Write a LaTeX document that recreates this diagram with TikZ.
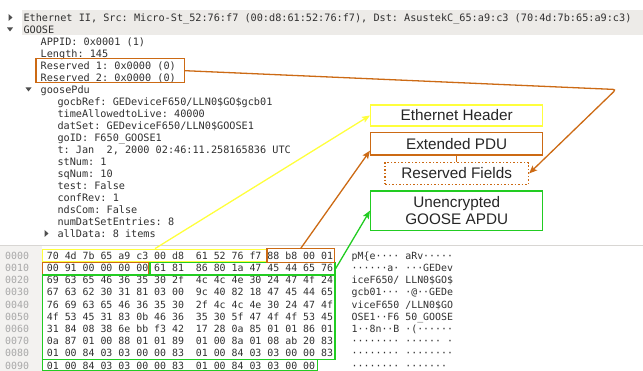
\documentclass[tikz,border=0pt]{standalone}
\usepackage{fontspec}
\setmainfont{Liberation Sans}
\setmonofont{DejaVu Sans Mono}
\usetikzlibrary{arrows.meta}

\definecolor{ethyellow}{HTML}{FFFF3C}
\definecolor{pduorange}{HTML}{CC6A14}
\definecolor{apdugreen}{HTML}{22CC22}
\definecolor{rowgray}{HTML}{EDEBE8}
\definecolor{offgray}{HTML}{A8A8A8}
\definecolor{treetext}{HTML}{303030}
\definecolor{paneline}{HTML}{D8D6D3}
\definecolor{offsetbg}{HTML}{F3F2F0}

\begin{document}
\begin{tikzpicture}[x=1pt,y=-1pt,
  treeline/.style={anchor=base west, inner sep=0pt, text=treetext, font=\fontsize{10.2}{12}\ttfamily},
  hexline/.style={anchor=base west, inner sep=0pt, text=treetext, font=\fontsize{9.9}{12}\ttfamily},
  offline/.style={hexline, text=offgray},
  hexbox/.style={line width=1.4pt, inner sep=0pt, minimum height=12.4pt},
  labelbox/.style={line width=1.5pt, inner sep=0pt, minimum width=172pt, text=black!85,
    font=\fontsize{15.3}{16.7}\selectfont, align=center},
  link/.style={line width=1.3pt, -{Stealth[length=8pt,width=6.5pt,inset=1.5pt]}},
  twisty/.style={fill=treetext!85, draw=none}
]
\useasboundingbox (0,0) rectangle (643,371);

% ---------- packet details pane ----------
\fill[rowgray] (22,10.5) rectangle (643,35.5);

\fill[twisty] (8.5,14) -- (12.5,17.5) -- (8.5,21) -- cycle;
\fill[twisty] (7,27.5) -- (13,27.5) -- (10,31.5) -- cycle;
\fill[twisty] (25.5,87.5) -- (31.5,87.5) -- (28.5,91.5) -- cycle;
\fill[twisty] (44.5,230) -- (48.5,233.5) -- (44.5,237) -- cycle;

\node[treeline] (ethii) at (23.3,21.1) {Ethernet II, Src: Micro-St\_52:76:f7 (00:d8:61:52:76:f7), Dst: AsustekC\_65:a9:c3 (70:4d:7b:65:a9:c3)};
\node[treeline] (goose) at (23.3,33.1) {GOOSE};
\node[treeline] (appid) at (40.5,45.1) {APPID: 0x0001 (1)};
\node[treeline] (length) at (40.5,57.1) {Length: 145};
\node[treeline] (res1) at (40.5,69.1) {Reserved 1: 0x0000 (0)};
\node[treeline] (res2) at (40.5,81.1) {Reserved 2: 0x0000 (0)};
\node[treeline] (pdu) at (40.5,93.1) {goosePdu};
\node[treeline] (gocb) at (57.3,105.1) {gocbRef: GEDeviceF650/LLN0\$GO\$gcb01};
\node[treeline] (ttl) at (57.3,117.1) {timeAllowedtoLive: 40000};
\node[treeline] (dset) at (57.3,129.1) {datSet: GEDeviceF650/LLN0\$GOOSE1};
\node[treeline] (goid) at (57.3,141.1) {goID: F650\_GOOSE1};
\node[treeline] (tstamp) at (57.3,153.1) {t: Jan\ \ 2, 2000 02:46:11.258165836 UTC};
\node[treeline] (stnum) at (57.3,165.1) {stNum: 1};
\node[treeline] (sqnum) at (57.3,177.1) {sqNum: 10};
\node[treeline] (test) at (57.3,189.1) {test: False};
\node[treeline] (confrev) at (57.3,201.1) {confRev: 1};
\node[treeline] (ndscom) at (57.3,213.1) {ndsCom: False};
\node[treeline] (nument) at (57.3,225.1) {numDatSetEntries: 8};
\node[treeline] (alldata) at (57.3,237.1) {allData: 8 items};

\node[draw=pduorange, line width=1.4pt, inner sep=0pt, minimum width=148.3pt, minimum height=24pt]
  (resv) at (110.2,70.7) {};

% ---------- bytes pane ----------
\draw[paneline, line width=1pt] (0,245.5) -- (643,245.5);
\fill[offsetbg] (0,246) rectangle (42,371);

\node[offline] (o0) at (5,259.3) {0000};
\node[hexline] (ha0) at (46.7,259.3) {70 4d 7b 65 a9 c3 00 d8};
\node[hexline] (hb0) at (195.7,259.3) {61 52 76 f7 88 b8 00 01};
\node[hexline] (ac0) at (351.5,259.3) {pM\{e···· aRv·····};

\node[offline] (o1) at (5,271.5) {0010};
\node[hexline] (ha1) at (46.7,271.5) {00 91 00 00 00 00 61 81};
\node[hexline] (hb1) at (195.7,271.5) {86 80 1a 47 45 44 65 76};
\node[hexline] (ac1) at (351.5,271.5) {······a· ···GEDev};

\node[offline] (o2) at (5,283.7) {0020};
\node[hexline] (ha2) at (46.7,283.7) {69 63 65 46 36 35 30 2f};
\node[hexline] (hb2) at (195.7,283.7) {4c 4c 4e 30 24 47 4f 24};
\node[hexline] (ac2) at (351.5,283.7) {iceF650/ LLN0\$GO\$};

\node[offline] (o3) at (5,295.9) {0030};
\node[hexline] (ha3) at (46.7,295.9) {67 63 62 30 31 81 03 00};
\node[hexline] (hb3) at (195.7,295.9) {9c 40 82 18 47 45 44 65};
\node[hexline] (ac3) at (351.5,295.9) {gcb01··· ·@··GEDe};

\node[offline] (o4) at (5,308.1) {0040};
\node[hexline] (ha4) at (46.7,308.1) {76 69 63 65 46 36 35 30};
\node[hexline] (hb4) at (195.7,308.1) {2f 4c 4c 4e 30 24 47 4f};
\node[hexline] (ac4) at (351.5,308.1) {viceF650 /LLN0\$GO};

\node[offline] (o5) at (5,320.3) {0050};
\node[hexline] (ha5) at (46.7,320.3) {4f 53 45 31 83 0b 46 36};
\node[hexline] (hb5) at (195.7,320.3) {35 30 5f 47 4f 4f 53 45};
\node[hexline] (ac5) at (351.5,320.3) {OSE1··F6 50\_GOOSE};

\node[offline] (o6) at (5,332.5) {0060};
\node[hexline] (ha6) at (46.7,332.5) {31 84 08 38 6e bb f3 42};
\node[hexline] (hb6) at (195.7,332.5) {17 28 0a 85 01 01 86 01};
\node[hexline] (ac6) at (351.5,332.5) {1··8n··B ·(······};

\node[offline] (o7) at (5,344.7) {0070};
\node[hexline] (ha7) at (46.7,344.7) {0a 87 01 00 88 01 01 89};
\node[hexline] (hb7) at (195.7,344.7) {01 00 8a 01 08 ab 20 83};
\node[hexline] (ac7) at (351.5,344.7) {········ ······\ ·};

\node[offline] (o8) at (5,356.9) {0080};
\node[hexline] (ha8) at (46.7,356.9) {01 00 84 03 03 00 00 83};
\node[hexline] (hb8) at (195.7,356.9) {01 00 84 03 03 00 00 83};
\node[hexline] (ac8) at (351.5,356.9) {········ ········};

\node[offline] (o9) at (5,369.1) {0090};
\node[hexline] (ha9) at (46.7,369.1) {01 00 84 03 03 00 00 83};
\node[hexline] (hb9) at (195.7,369.1) {01 00 84 03 03 00 00};
\node[hexline] (ac9) at (351.5,369.1) {········ ·······};

% byte-range frames
\node[hexbox, draw=ethyellow, minimum width=224.6pt] (ybox) at (155,255.5) {};
\node[hexbox, draw=pduorange, minimum width=105.6pt] (obox1) at (95.5,268.5) {};
\node[hexbox, draw=apdugreen, minimum width=185pt] (gbox1) at (242.5,268.5) {};
\node[hexbox, draw=apdugreen, minimum width=292.3pt, minimum height=84.3pt] (gbox2) at (188.85,317.15) {};
\node[hexbox, draw=apdugreen, minimum width=274.6pt, minimum height=11.2pt] (gbox3) at (180,364.9) {};
\node[hexbox, minimum width=66.2pt] (obox0) at (300.6,255.5) {};
\draw[pduorange, line width=1.4pt] (obox0.north west) rectangle (obox0.south east);

% ---------- legend boxes ----------
\node[labelbox, draw=ethyellow, minimum height=21pt] (ethhdr) at (456.7,115.5) {Ethernet Header};
\node[labelbox, draw=pduorange, minimum height=22.3pt] (extpdu) at (456.7,143.8) {Extended PDU};
\node[labelbox, draw=pduorange, dotted, minimum width=143.3pt, minimum height=21.6pt] (resfld) at (456.7,173.5) {Reserved Fields};
\node[labelbox, draw=apdugreen, minimum height=39.3pt] (apdu) at (456.7,210.7) {Unencrypted\\GOOSE APDU};

\draw[pduorange, line width=1.3pt] (extpdu.south) -- (resfld.north);

% ---------- connectors ----------
\coordinate (kink) at (616,89.5);
\draw[link, ethyellow] (ybox.north) -- (ethhdr.west);
\draw[link, pduorange] (obox0.north) -- ([yshift=5pt]extpdu.south west);
\draw[link, apdugreen] (gbox1.east) -- (apdu.west);
\draw[link, pduorange, rounded corners=3pt] (resv.east) -- (kink) -- (resfld.east);
\end{tikzpicture}
\end{document}
